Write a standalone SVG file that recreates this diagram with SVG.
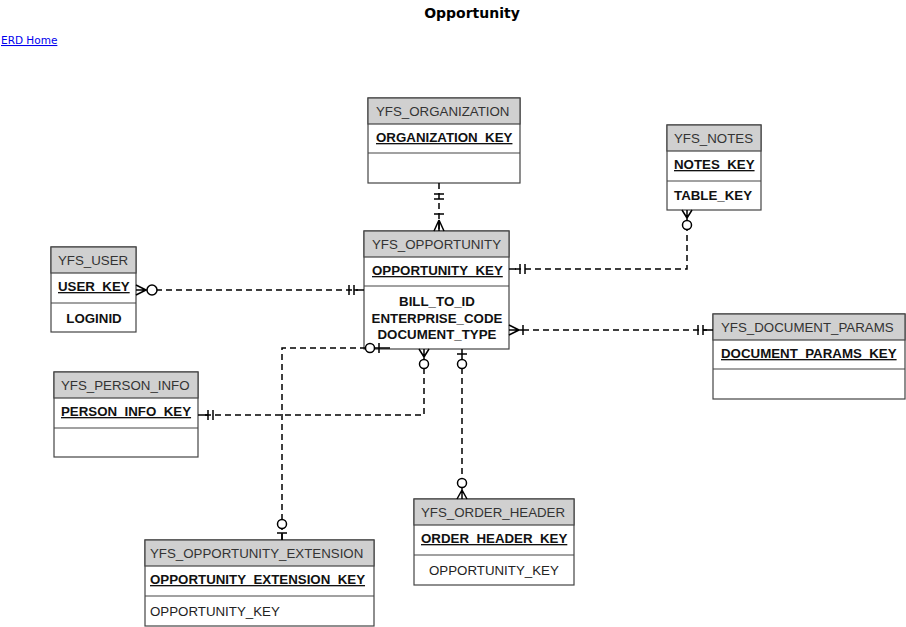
<svg xmlns="http://www.w3.org/2000/svg" width="906" height="627" viewBox="0 0 906 627">
<style>
.box{fill:#fff;stroke:#444;stroke-width:1.2}
.hdr{fill:#d0d0d0;stroke:#444;stroke-width:1.2}
.sep{stroke:#444;stroke-width:1.2}
.ht{font-family:"Liberation Sans",Arial,sans-serif;font-size:13.3px;fill:#333}
.kt{font-family:"Liberation Sans",Arial,sans-serif;font-size:13.3px;font-weight:bold;fill:#111;text-decoration:underline}
.bt{font-family:"Liberation Sans",Arial,sans-serif;font-size:13.3px;font-weight:bold;fill:#111}
.nt{font-family:"Liberation Sans",Arial,sans-serif;font-size:13.3px;fill:#222}
.dash{fill:none;stroke:#000;stroke-width:1.5;stroke-dasharray:6 4}
.sym{fill:none;stroke:#000;stroke-width:1.5}
.circ{fill:#fff;stroke:#000;stroke-width:1.5}
</style>
<rect width="906" height="627" fill="#fff"/>
<text x="472" y="18" text-anchor="middle" font-family="DejaVu Sans, Verdana, sans-serif" font-size="14" font-weight="bold" fill="#000">Opportunity</text>
<text x="1" y="44" font-family="DejaVu Sans, Verdana, sans-serif" font-size="10.5" fill="#00e" text-decoration="underline">ERD Home</text>

<g id="YFS_ORGANIZATION">
  <rect class="box" x="368" y="98" width="152" height="85"/>
  <rect class="hdr" x="368" y="98" width="152" height="26"/>
  <line class="sep" x1="368" y1="153" x2="520" y2="153"/>
  <text class="ht" x="376" y="116">YFS_ORGANIZATION</text>
  <text class="kt" x="376" y="142">ORGANIZATION_KEY</text>
</g>

<g id="YFS_NOTES">
  <rect class="box" x="667" y="125" width="94" height="85"/>
  <rect class="hdr" x="667" y="125" width="94" height="26"/>
  <line class="sep" x1="667" y1="181" x2="761" y2="181"/>
  <text class="ht" x="674" y="143">YFS_NOTES</text>
  <text class="kt" x="674" y="169">NOTES_KEY</text>
  <text class="bt" x="674" y="200">TABLE_KEY</text>
</g>

<g id="YFS_OPPORTUNITY">
  <rect class="box" x="364" y="231" width="145" height="118"/>
  <rect class="hdr" x="364" y="231" width="145" height="26"/>
  <line class="sep" x1="364" y1="286" x2="509" y2="286"/>
  <text class="ht" x="372" y="249">YFS_OPPORTUNITY</text>
  <text class="kt" x="372" y="275">OPPORTUNITY_KEY</text>
  <text class="bt" x="437" y="306" text-anchor="middle">BILL_TO_ID</text>
  <text class="bt" x="437" y="323" text-anchor="middle">ENTERPRISE_CODE</text>
  <text class="bt" x="437" y="339" text-anchor="middle">DOCUMENT_TYPE</text>
</g>

<g id="YFS_USER">
  <rect class="box" x="51" y="247" width="85" height="85"/>
  <rect class="hdr" x="51" y="247" width="85" height="26"/>
  <line class="sep" x1="51" y1="303" x2="136" y2="303"/>
  <text class="ht" x="58" y="265">YFS_USER</text>
  <text class="kt" x="58" y="291">USER_KEY</text>
  <text class="bt" x="94" y="323" text-anchor="middle">LOGINID</text>
</g>

<g id="YFS_DOCUMENT_PARAMS">
  <rect class="box" x="713" y="314" width="192" height="85"/>
  <rect class="hdr" x="713" y="314" width="192" height="26"/>
  <line class="sep" x1="713" y1="369" x2="905" y2="369"/>
  <text class="ht" x="721" y="332">YFS_DOCUMENT_PARAMS</text>
  <text class="kt" x="721" y="358">DOCUMENT_PARAMS_KEY</text>
</g>

<g id="YFS_PERSON_INFO">
  <rect class="box" x="54" y="372" width="144" height="85"/>
  <rect class="hdr" x="54" y="372" width="144" height="26"/>
  <line class="sep" x1="54" y1="428" x2="198" y2="428"/>
  <text class="ht" x="61" y="390">YFS_PERSON_INFO</text>
  <text class="kt" x="61" y="416">PERSON_INFO_KEY</text>
</g>

<g id="YFS_ORDER_HEADER">
  <rect class="box" x="414" y="499" width="160" height="86"/>
  <rect class="hdr" x="414" y="499" width="160" height="26"/>
  <line class="sep" x1="414" y1="555" x2="574" y2="555"/>
  <text class="ht" x="421" y="517">YFS_ORDER_HEADER</text>
  <text class="kt" x="421" y="543">ORDER_HEADER_KEY</text>
  <text class="nt" x="429" y="575">OPPORTUNITY_KEY</text>
</g>

<g id="YFS_OPPORTUNITY_EXTENSION">
  <rect class="box" x="145" y="540" width="229" height="86"/>
  <rect class="hdr" x="145" y="540" width="229" height="26"/>
  <line class="sep" x1="145" y1="596" x2="374" y2="596"/>
  <text class="ht" x="150" y="558">YFS_OPPORTUNITY_EXTENSION</text>
  <text class="kt" x="150" y="584">OPPORTUNITY_EXTENSION_KEY</text>
  <text class="nt" x="150" y="616">OPPORTUNITY_KEY</text>
</g>

<g id="connectors">
  <path class="dash" d="M439,183 V231"/>
  <path class="sym" d="M434,194 H444 M434,199 H444 M434,214 H444 M439,220 L434,231 M439,220 V231 M439,220 L444,231"/>

  <path class="dash" d="M515,269 H687 V218"/>
  <path class="sym" d="M509,269 H516 M520,264 V274 M525,264 V274 M687,218 L682,210 M687,218 V210 M687,218 L692,210"/>
  <circle class="circ" cx="687" cy="225" r="4.5"/>

  <path class="dash" d="M156,290 H358"/>
  <path class="sym" d="M136,290 H147 M146,290 L136,285 M146,290 L136,295 M349,285 V295 M354,285 V295 M354,290 H364"/>
  <circle class="circ" cx="152" cy="290" r="5"/>

  <path class="dash" d="M523,330 H707"/>
  <path class="sym" d="M509,330 H523 M519,330 L509,325 M519,330 L509,335 M523,325 V335 M698,325 V335 M703,325 V335 M703,330 H713"/>

  <path class="dash" d="M282,540 V348 H366"/>
  <path class="sym" d="M374,348 H390 M379,343 V353 M282,533 V540 M277,533 H287"/>
  <circle class="circ" cx="370" cy="348" r="4.5"/>
  <circle class="circ" cx="282" cy="524" r="4.5"/>

  <path class="dash" d="M424,368 V415 H204"/>
  <path class="sym" d="M424,349 V360 M424,357 L419,349 M424,357 L429,349 M208,410 V420 M213,410 V420 M198,415 H208"/>
  <circle class="circ" cx="424" cy="364" r="4.5"/>

  <path class="dash" d="M462,368 V479"/>
  <path class="sym" d="M462,349 V360 M457,354 H467 M462,488 V499 M462,490 L457,499 M462,490 L467,499"/>
  <circle class="circ" cx="462" cy="364" r="4.5"/>
  <circle class="circ" cx="462" cy="483" r="4.5"/>
</g>
</svg>
